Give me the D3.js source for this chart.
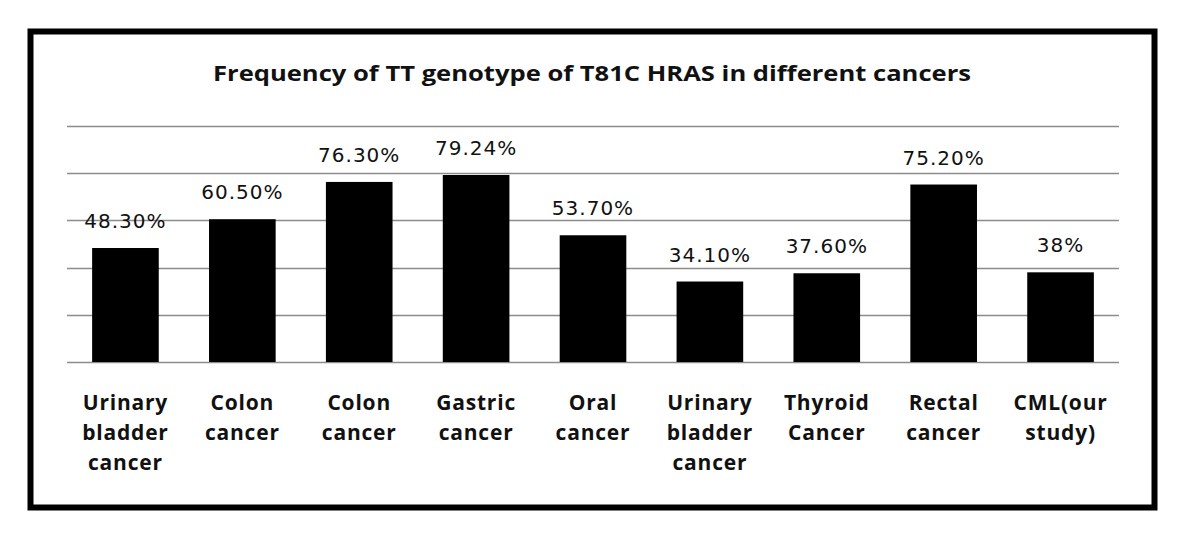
<!DOCTYPE html>
<html>
<head>
<meta charset="utf-8">
<script src="https://cdn.jsdelivr.net/npm/d3@7"></script>
<style>
  html, body { margin: 0; padding: 0; background: #fff; }
  svg { display: block; }
</style>
</head>
<body>
<svg id="chart" width="1181" height="536"></svg>
<script>
const title = "Frequency of TT genotype of T81C HRAS in different cancers";
const categories = [
  "Urinary bladder cancer", "Colon cancer", "Colon cancer", "Gastric cancer",
  "Oral cancer", "Urinary bladder cancer", "Thyroid Cancer", "Rectal cancer", "CML(our study)"
];
const categoryLines = [
  ["Urinary", "bladder", "cancer"], ["Colon", "cancer"], ["Colon", "cancer"], ["Gastric", "cancer"],
  ["Oral", "cancer"], ["Urinary", "bladder", "cancer"], ["Thyroid", "Cancer"], ["Rectal", "cancer"], ["CML(our", "study)"]
];
const values = [48.30, 60.50, 76.30, 79.24, 53.70, 34.10, 37.60, 75.20, 38];
const valueLabels = ["48.30%", "60.50%", "76.30%", "79.24%", "53.70%", "34.10%", "37.60%", "75.20%", "38%"];
const gridTicks = [0, 20, 40, 60, 80, 100];

(function () {
const svg = d3.select("#chart");

// outer frame
svg.append("rect")
  .attr("x", 30.5).attr("y", 31.5).attr("width", 1124).attr("height", 476)
  .attr("fill", "#fff").attr("stroke", "#000").attr("stroke-width", 6);

const plotLeft = 67, plotRight = 1119, plotTop = 126, plotBottom = 362;

const x = d3.scaleBand().domain(d3.range(categories.length))
  .range([plotLeft, plotRight]).paddingInner(0.43).paddingOuter(0.215);
const y = d3.scaleLinear().domain([0, 100]).range([plotBottom, plotTop]);

// gridlines
svg.append("g").selectAll("line").data(gridTicks).join("line")
  .attr("x1", plotLeft).attr("x2", plotRight)
  .attr("y1", d => Math.round(y(d)) + 0.5).attr("y2", d => Math.round(y(d)) + 0.5)
  .attr("stroke", "#8c8c8c").attr("stroke-width", 1.5);

// bars
svg.append("g").selectAll("rect").data(values).join("rect")
  .attr("x", (d, i) => x(i)).attr("width", x.bandwidth())
  .attr("y", d => y(d)).attr("height", d => plotBottom - y(d))
  .attr("fill", "#000");

// value labels
svg.append("g").selectAll("text").data(values).join("text")
  .attr("x", (d, i) => x(i) + x.bandwidth() / 2)
  .attr("y", d => y(d) - 20)
  .attr("text-anchor", "middle")
  .attr("font-family", "DejaVu Sans")
  .attr("font-size", 20)
  .attr("letter-spacing", 1)
  .attr("fill", "#111")
  .text((d, i) => valueLabels[i]);

// category labels
const cat = svg.append("g").selectAll("text").data(categoryLines).join("text")
  .attr("text-anchor", "middle")
  .attr("font-family", "Open Sans")
  .attr("font-weight", "bold")
  .attr("font-size", 21)
  .attr("letter-spacing", 0.8)
  .attr("fill", "#111");
cat.each(function(lines, i) {
  d3.select(this).selectAll("tspan").data(lines).join("tspan")
    .attr("x", x(i) + x.bandwidth() / 2)
    .attr("y", (l, j) => 410 + j * 30)
    .text(l => l);
});

// title
svg.append("text")
  .attr("x", 213).attr("y", 81)
  .attr("font-family", "Open Sans")
  .attr("font-weight", "bold")
  .attr("font-size", 21)
  .attr("textLength", 758)
  .attr("lengthAdjust", "spacingAndGlyphs")
  .attr("fill", "#111")
  .text(title);
})();
</script>
</body>
</html>
